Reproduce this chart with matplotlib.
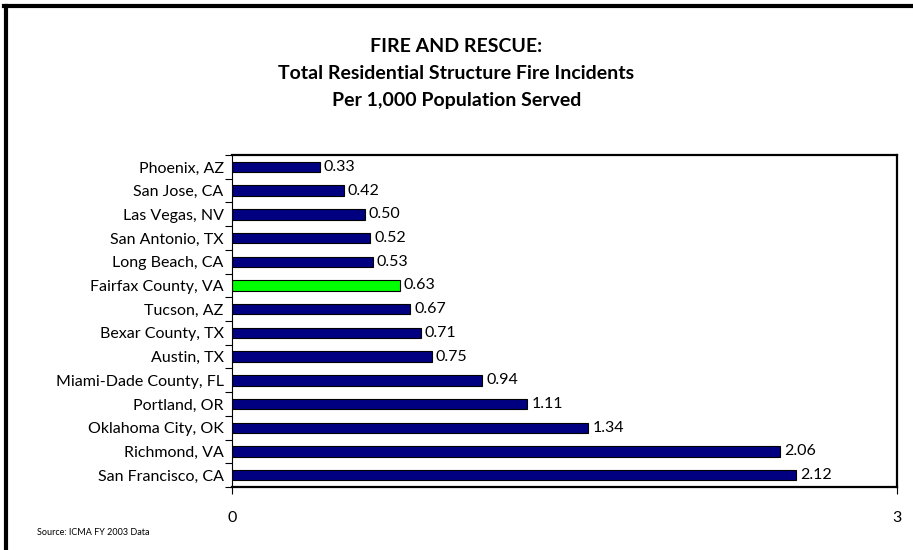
import matplotlib
matplotlib.use("Agg")
import matplotlib.pyplot as plt
from matplotlib.lines import Line2D
import numpy as np

# data (top to bottom)
cities = ["Phoenix, AZ", "San Jose, CA", "Las Vegas, NV", "San Antonio, TX",
          "Long Beach, CA", "Fairfax County, VA", "Tucson, AZ", "Bexar County, TX",
          "Austin, TX", "Miami-Dade County, FL", "Portland, OR", "Oklahoma City, OK",
          "Richmond, VA", "San Francisco, CA"]
incidents = [0.33, 0.42, 0.50, 0.52, 0.53, 0.63, 0.67, 0.71, 0.75, 0.94,
             1.11, 1.34, 2.06, 2.12]
highlight = "Fairfax County, VA"

plt.rcParams["font.family"] = ["Lato", "DejaVu Sans"]

fig = plt.figure(figsize=(9.13, 5.5), dpi=100)
ax = fig.add_axes([0.2541, 0.1145, 0.7284, 0.6036])

colors = ["#00FF00" if c == highlight else "#000080" for c in cities]
y = np.arange(len(cities))
ax.barh(y, incidents, height=0.44, color=colors, edgecolor="black", linewidth=0.8)

for yi, v in zip(y, incidents):
    ax.text(v + 0.015, yi, f"{v:.2f}", va="center", ha="left", fontsize=11.5)

ax.set_ylim(len(cities) - 0.5, -0.5)
ax.set_xlim(0, 2.5)

# y axis: labels at bar centres, tick marks at category boundaries
ax.set_yticks(y)
ax.set_yticklabels(cities, fontsize=11.5)
ax.tick_params(axis="y", which="major", length=0, pad=6)
ax.set_yticks(np.arange(-0.5, len(cities), 1), minor=True)
ax.tick_params(axis="y", which="minor", length=5, width=0.8, direction="out")

# x axis: only 0 and the max (Excel shows 2.5 rounded to "3")
ax.set_xticks([0, 2.5])
ax.set_xticklabels(["0", "3"], fontsize=11.5)
ax.tick_params(axis="x", length=5, width=0.8, direction="out", pad=12)

for s in ax.spines.values():
    s.set_linewidth(1.6)
ax.spines["left"].set_linewidth(0.8)

fig.text(0.5, 0.915, "FIRE AND RESCUE:", ha="center", va="center",
         fontsize=14, fontweight="bold")
fig.text(0.5, 0.867, "Total Residential Structure Fire Incidents", ha="center",
         va="center", fontsize=14, fontweight="bold")
fig.text(0.5, 0.818, "Per 1,000 Population Served", ha="center", va="center",
         fontsize=14, fontweight="bold")

fig.text(0.041, 0.031, "Source: ICMA FY 2003 Data", ha="left", va="center", fontsize=6.5)

# outer frame on left and top
fig.add_artist(Line2D([0.0062, 0.0062], [0.0, 0.989], color="black", linewidth=3,
                      transform=fig.transFigure))
fig.add_artist(Line2D([0.0045, 1.0], [0.989, 0.989], color="black", linewidth=3,
                      transform=fig.transFigure))

fig.savefig("out.png", dpi=100)
